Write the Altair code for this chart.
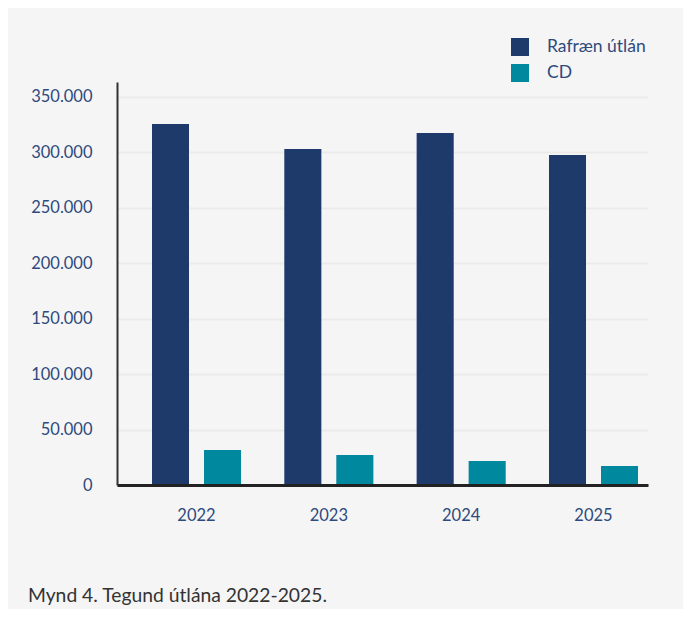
import altair as alt
import pandas as pd

years = ["2022", "2023", "2024", "2025"]
series = ["Rafræn útlán", "CD"]
rafraen = [325600, 303100, 317500, 297700]
cd = [31600, 27000, 21600, 17100]
colors = ["#1d3a6b", "#00889e"]
y_ticks = [0, 50000, 100000, 150000, 200000, 250000, 300000, 350000]
caption = "Mynd 4. Tegund útlána 2022-2025."

rows = []
for i, yr in enumerate(years):
    rows.append({"year": yr, "series": series[0], "value": rafraen[i]})
    rows.append({"year": yr, "series": series[1], "value": cd[i]})
df = pd.DataFrame(rows)

FONT = "Lato"
LABEL = "#2e4a7d"

x_enc = alt.X(
    "year:N",
    sort=years,
    scale=alt.Scale(paddingInner=0.3275, paddingOuter=0.170, align=0.778),
    axis=alt.Axis(
        title=None, labelAngle=0, ticks=False, labelPadding=22,
        labelFontSize=16.5, labelColor=LABEL, labelFont=FONT,
        domainColor="#222222", domainWidth=3, zindex=1, grid=False,
    ),
)
xo_enc = alt.XOffset(
    "series:N", sort=series,
    scale=alt.Scale(domain=series, paddingInner=0.2885, paddingOuter=0),
)
y_enc = alt.Y(
    "value:Q",
    scale=alt.Scale(domain=[0, 363500], nice=False, zero=True),
    axis=alt.Axis(
        title=None, values=y_ticks, format=",d", ticks=False, labelPadding=25,
        labelFontSize=16.5, labelColor=LABEL, labelFont=FONT,
        domainColor="#333333", domainWidth=2,
        grid=True, gridColor="#ebebeb", gridWidth=2, zindex=0,
    ),
)

base = alt.Chart(df)

shadows = [
    base.mark_bar(color="#6e6e90", opacity=0.03, xOffset=k).encode(
        x=x_enc, xOffset=xo_enc, y=y_enc
    )
    for k in [2, 4, 6, 8, 10, 12]
]

bars = base.mark_bar().encode(
    x=x_enc,
    xOffset=xo_enc,
    y=y_enc,
    color=alt.Color(
        "series:N",
        sort=series,
        scale=alt.Scale(domain=series, range=colors),
        legend=alt.Legend(
            title=None, orient="none", legendX=394, legendY=-44,
            symbolType="square", symbolSize=324, symbolStrokeWidth=0,
            labelFontSize=17.5, labelColor=LABEL, labelFont=FONT,
            rowPadding=8, labelOffset=18, padding=0,
        ),
    ),
)

chart = alt.layer(*shadows, bars).properties(
    width=531,
    height=403,
    autosize=alt.AutoSizeParams(type="none"),
    padding={"left": 109, "top": 74, "right": 35, "bottom": 124},
    title=alt.TitleParams(
        caption, orient="bottom", anchor="start", frame="group",
        dx=-89, offset=63, fontSize=19.3, font=FONT, fontWeight="normal",
        color="#333333",
    ),
).configure(
    background="#f5f5f5",
    locale={"number": {"decimal": ",", "thousands": ".", "grouping": [3], "currency": ["", " kr."]}},
).configure_view(stroke=None)

chart.save("out.html", embed_options={"renderer": "svg", "actions": False})
